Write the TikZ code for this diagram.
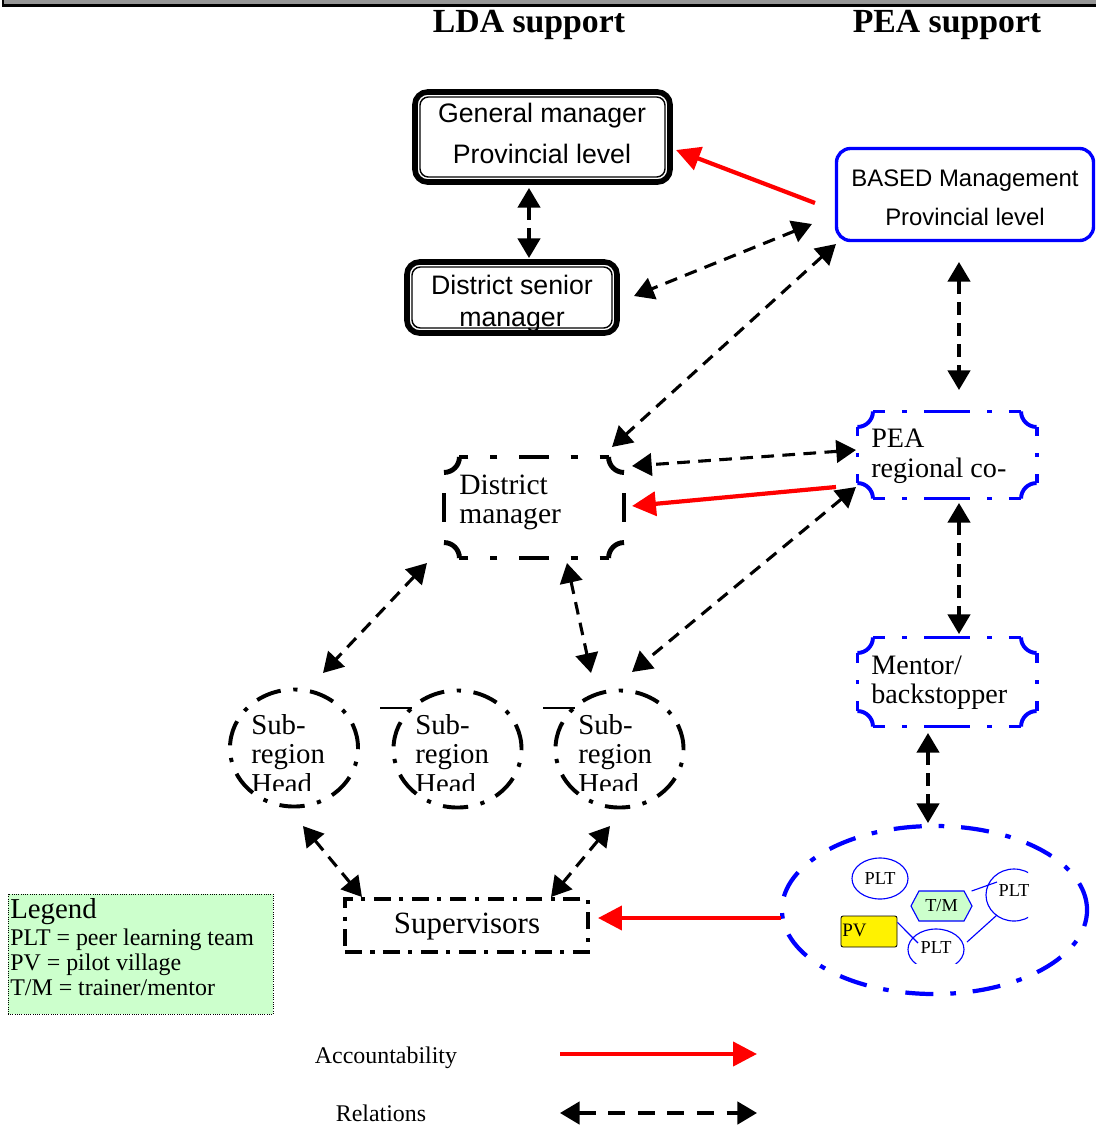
\documentclass[tikz,border=0pt]{standalone}
\usepackage{fontspec}
\setmainfont{Liberation Serif}
\newfontfamily\arialfont{Liberation Sans}
\usetikzlibrary{arrows.meta,shapes.geometric,shapes.symbols}
\definecolor{verdeclaro}{RGB}{204,255,204}
\definecolor{grisbarra}{RGB}{150,150,150}

% Caja con esquinas concavas (placa) alrededor de un nodo:
% #1 estilo, #2 nodo, #3 radio, #4 trazo horizontal, #5 trazo vertical
\newcommand{\placa}[5]{%
  \draw[#1, dash pattern=#4] (#2.north) -- ([xshift=-#3]#2.north east) (#2.north) -- ([xshift=#3]#2.north west)
    (#2.south) -- ([xshift=-#3]#2.south east) (#2.south) -- ([xshift=#3]#2.south west);
  \draw[#1, dash pattern=#5] (#2.east) -- ([yshift=-#3]#2.north east) (#2.east) -- ([yshift=#3]#2.south east)
    (#2.west) -- ([yshift=-#3]#2.north west) (#2.west) -- ([yshift=#3]#2.south west);
  \draw[#1, solid] ([xshift=-#3]#2.north east) arc[start angle=180,end angle=270,radius=#3]
    ([yshift=#3]#2.south east) arc[start angle=90,end angle=180,radius=#3]
    ([xshift=#3]#2.south west) arc[start angle=0,end angle=90,radius=#3]
    ([yshift=-#3]#2.north west) arc[start angle=270,end angle=360,radius=#3];}

\tikzset{
  relacion/.style={line width=2.2pt, dash pattern=on 9pt off 6pt,
    {Triangle[length=14pt,width=16pt]}-{Triangle[length=14pt,width=16pt]}},
  rendir/.style={red, line width=3pt, -{Triangle[length=17pt,width=17pt]}},
  cajadoble/.style={draw, line width=4pt, rounded corners=9pt, outer sep=0pt},
  cajaazul/.style={draw=blue, line width=2.4pt, rounded corners=10pt, outer sep=0pt},
  hueco/.style={draw=none, inner sep=0pt, outer sep=0pt},
  texto/.style={inner sep=0pt, align=left, anchor=base west},
  bordeazul/.style={blue, line width=2.8pt},
  bordenegro/.style={line width=3.5pt},
  subregion/.style={ellipse, draw, line width=2.8pt, dash pattern=on 18pt off 9pt on 3pt off 9pt,
    minimum width=3.2cm, minimum height=2.925cm, inner sep=0pt, outer sep=0pt},
  equipo/.style={ellipse, draw=blue, line width=0.8pt, minimum width=1.4cm, minimum height=1.025cm,
    inner sep=0pt, font=\fontsize{13}{15}\selectfont},
  titulo/.style={font=\fontsize{24}{26}\selectfont\bfseries, anchor=base},
}

\begin{document}
\begin{tikzpicture}[x=0.025cm, y=-0.025cm]
  \useasboundingbox (0,0) rectangle (1096,1126); % Tamano del dibujo

  % Barra superior
  \fill[grisbarra] (3,-5) rectangle (1100,5); % Relleno gris
  \draw[line width=2pt] (3,-5) -- (3,5.5) -- (1100,5.5); % Borde negro

  % Titulos de columnas
  \node[titulo] (lda) at (529,32) {LDA support};
  \node[titulo] (peasup) at (947,32) {PEA support};

  % Cajas de nivel provincial y distrito
  \node[cajadoble, minimum width=6.375cm, minimum height=2.25cm] (gm) at (542.5,137) {};
  \draw[line width=1pt, rounded corners=6pt] ([shift={(5,5)}]gm.north west) rectangle ([shift={(-5,-5)}]gm.south east);
  \node[anchor=base, align=center, font=\arialfont\fontsize{19}{29}\selectfont] (gmtxt) at (542,163) {General manager\\Provincial level};

  \node[cajadoble, minimum width=5.25cm, minimum height=1.775cm] (dsm) at (512,297.5) {};
  \draw[line width=1pt, rounded corners=6pt] ([shift={(5,5)}]dsm.north west) rectangle ([shift={(-5,-5)}]dsm.south east);
  \begin{scope}
    \clip (410,265) rectangle (615,329); % Texto cortado por el borde
    \node[anchor=base, align=center, font=\arialfont\fontsize{19}{22.7}\selectfont] (dsmtxt) at (512,326) {District senior\\manager};
  \end{scope}

  \node[cajaazul, minimum width=6.425cm, minimum height=2.3cm] (based) at (965,194.5) {};
  \node[anchor=base, align=center, font=\arialfont\fontsize{17}{27.3}\selectfont] (basedtxt) at (965,225) {BASED Management\\Provincial level};

  % Cajas con esquinas concavas
  \node[hueco, minimum width=4.5cm, minimum height=2.525cm] (dm) at (534,507.5) {};
  \placa{bordenegro}{dm}{11pt}{on 10.5pt off 15.6pt on 5pt off 15.6pt on 10.5pt off 0pt}{on 10.5pt off 15.6pt on 5pt off 15.6pt on 10.5pt off 0pt}
  \node[texto, font=\fontsize{21}{20.6}\selectfont] (dmtxt) at (459,523) {District\\manager};

  \node[hueco, minimum width=4.475cm, minimum height=2.175cm] (pea) at (947,455) {};
  \placa{bordeazul}{pea}{11pt}{on 16.5pt off 12pt on 3.5pt off 12pt on 16.5pt off 0pt}{on 1.75pt off 12pt on 33pt off 12pt on 1.75pt off 0pt}
  \node[texto, font=\fontsize{20}{21.3}\selectfont] (peatxt) at (871,477) {PEA\\regional co-};

  \node[hueco, minimum width=4.475cm, minimum height=2.225cm] (mentor) at (947,682) {};
  \placa{bordeazul}{mentor}{11pt}{on 16.5pt off 12pt on 3.5pt off 12pt on 16.5pt off 0pt}{on 1.75pt off 12pt on 33pt off 12pt on 1.75pt off 0pt}
  \node[texto, font=\fontsize{20}{20.2}\selectfont] (mentortxt) at (871,703) {Mentor/\\backstopper};

  % Jefes de subregion
  \node[subregion] (sr1) at (294,748) {};
  \node[subregion] (sr2) at (457.5,749) {};
  \node[subregion] (sr3) at (619.5,749) {};
  \draw[line width=0.8pt] ([shift={(-77.5,-41)}]sr2.center) -- ([shift={(-45.5,-41)}]sr2.center);
  \draw[line width=0.8pt] ([shift={(-76.5,-41)}]sr3.center) -- ([shift={(-44.5,-41)}]sr3.center);
  \begin{scope}
    \clip (235,700) rectangle (700,790); % "Head" cortado abajo
    \node[texto, font=\fontsize{20.5}{20.9}\selectfont] (sr1txt) at (251,793) {Sub-\\region\\Head};
    \node[texto, font=\fontsize{20.5}{20.9}\selectfont] (sr2txt) at (415,793) {Sub-\\region\\Head};
    \node[texto, font=\fontsize{20.5}{20.9}\selectfont] (sr3txt) at (578,793) {Sub-\\region\\Head};
  \end{scope}

  % Supervisores
  \node[draw, line width=2.8pt, dash pattern=on 12pt off 6pt on 3pt off 6pt, minimum width=6.075cm,
    minimum height=1.325cm, outer sep=0pt] (sup) at (466.5,925.5) {};
  \node[anchor=base, font=\fontsize{22}{24}\selectfont] (suptxt) at (467,933) {Supervisors};

  % Grupo de aldeas piloto
  \node[ellipse, draw=blue, line width=3pt, dash pattern=on 20pt off 12pt on 4pt off 12pt,
    minimum width=7.625cm, minimum height=4.2cm, outer sep=0pt] (pg) at (934.5,910) {};
  \node[equipo] (plt1) at (880,878.5) {PLT};
  \node[signal, signal to=east and west, signal pointer angle=124, draw=blue, line width=0.8pt,
    fill=verdeclaro, minimum width=1.525cm, minimum height=0.75cm, inner sep=0pt,
    font=\fontsize{13}{15}\selectfont] (tm) at (941.5,906) {T/M};
  \node[draw, fill=yellow, line width=0.6pt, rounded corners=1.5pt, minimum height=0.775cm,
    text width=1.33cm, inner xsep=1pt, align=left, font=\fontsize{13.5}{15}\selectfont] (pv) at (869,931.5) {\raisebox{2pt}{PV}};
  \begin{scope}
    \clip (975,860) rectangle (1028,930);
    \node[equipo, minimum height=1.3cm] (pltr) at (1014,895) {\raisebox{7pt}{PLT}};
  \end{scope}
  \begin{scope}
    \clip (900,920) rectangle (975,963);
    \node[equipo] (pltb) at (936,949.5) {\raisebox{3pt}{PLT}};
  \end{scope}
  \draw[blue, line width=0.8pt] ([yshift=6.5]pv.east) -- ([shift={(-18,-6.5)}]pltb.center);
  \draw[blue, line width=0.8pt] ([shift={(-1,-15)}]tm.east) -- ([shift={(-17,-13)}]pltr.center);
  \draw[blue, line width=0.8pt] ([shift={(31,-7.5)}]pltb.center) -- ([shift={(-17,20)}]pltr.center);

  % Relaciones (flechas discontinuas)
  \draw[relacion] ([shift={(-13.5,6)}]gm.south) -- ([shift={(17,-4)}]dsm.north);
  \draw[relacion] ([shift={(-24.5,29.5)}]based.west) -- ([shift={(17,-1.5)}]dsm.east);
  \draw[relacion] ([shift={(-0.5,3.5)}]based.south west) -- ([shift={(-12,-10)}]dm.north east);
  \draw[relacion] ([shift={(-6,21.5)}]based.south) -- ([shift={(12,-21.5)}]pea.north);
  \draw[relacion] ([shift={(-1.5,-5)}]pea.west) -- ([shift={(8,-41.5)}]dm.east);
  \draw[relacion] ([shift={(-1.5,-11.5)}]pea.south west) -- ([shift={(12.5,-18.5)}]sr3.north);
  \draw[relacion] ([shift={(-17,5)}]dm.south west) -- ([shift={(29,-16.5)}]sr1.north);
  \draw[relacion] ([shift={(33,5)}]dm.south) -- ([shift={(-28.5,-17.5)}]sr3.north);
  \draw[relacion] ([shift={(12,4.5)}]pea.south) -- ([shift={(12,-3.5)}]mentor.north);
  \draw[relacion] ([shift={(-19,6.5)}]mentor.south) -- ([shift={(-6.5,-3)}]pg.north);
  \draw[relacion] ([shift={(9,19.5)}]sr1.south) -- ([shift={(17,-2)}]sup.north west);
  \draw[relacion] ([shift={(-9.5,18.5)}]sr3.south) -- ([shift={(-37,-2)}]sup.north east);

  % Rendicion de cuentas (flechas rojas)
  \draw[rendir] ([shift={(-21.5,8.5)}]based.west) -- ([shift={(6,13)}]gm.east);
  \draw[rendir] ([shift={(-21.5,32)}]pea.west) -- ([shift={(8,-1.5)}]dm.east);
  \draw[rendir] ([shift={(-1,8)}]pg.west) -- ([shift={(10,-7.5)}]sup.east);

  % Leyenda
  \node[draw, densely dotted, line width=0.6pt, fill=verdeclaro, minimum width=6.625cm,
    minimum height=3cm, outer sep=0pt] (leyenda) at (140.5,954) {};
  \node[texto, font=\fontsize{17}{17.7}\selectfont] (leyendatxt) at (10,995)
    {{\fontsize{20.5}{20}\selectfont Legend}\\[1.5pt]PLT = peer learning team\\PV = pilot village\\T/M = trainer/mentor};

  % Claves de flechas
  \node[anchor=base, font=\fontsize{17}{19}\selectfont] (acc) at (386,1063) {Accountability};
  \coordinate (acc1) at (560,1054);
  \coordinate (acc2) at (757,1054);
  \draw[rendir] (acc1) -- (acc2);
  \node[anchor=base, font=\fontsize{17}{19}\selectfont] (rel) at (381,1121) {Relations};
  \coordinate (rel1) at (560,1113);
  \coordinate (rel2) at (757,1113);
  \draw[relacion, line width=2.4pt, dash pattern=on 12pt off 9pt] (rel1) -- (rel2);
\end{tikzpicture}
\end{document}
